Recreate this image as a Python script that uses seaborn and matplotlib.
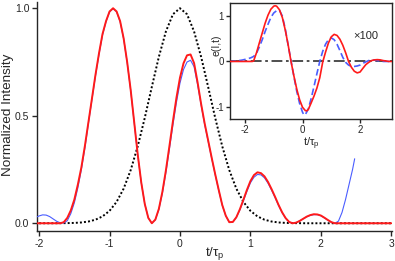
import numpy as np
import pandas as pd
import matplotlib
matplotlib.use("Agg")
import matplotlib.pyplot as plt
import seaborn as sns

# ---------------- data ----------------
# main panel: red intensity
t_red = [-2.03, -1.9, -1.8, -1.7, -1.65, -1.6, -1.55, -1.5, -1.45, -1.4, -1.35, -1.3, -1.25,
         -1.2, -1.15, -1.1, -1.05, -1.0, -0.95, -0.9, -0.85, -0.8, -0.75, -0.7, -0.65,
         -0.6, -0.55, -0.5, -0.45, -0.4, -0.35, -0.3, -0.25, -0.2, -0.15, -0.1, -0.05,
         0.0, 0.05, 0.1, 0.15, 0.2, 0.25, 0.3, 0.35, 0.4, 0.45, 0.5, 0.55, 0.6, 0.65,
         0.7, 0.75, 0.8, 0.85, 0.9, 0.95, 1.0, 1.05, 1.1, 1.15, 1.2, 1.25, 1.3, 1.35,
         1.4, 1.45, 1.5, 1.55, 1.6, 1.65, 1.7, 1.75, 1.8, 1.85, 1.9, 1.95, 2.0, 2.05,
         2.1, 2.15, 2.2, 2.5, 3.0]
i_red = [0.0, 0.0, 0.0, 0.0, 0.005, 0.025, 0.06, 0.11, 0.18, 0.26, 0.36, 0.47, 0.58,
         0.69, 0.79, 0.88, 0.94, 0.985, 1.0, 0.985, 0.94, 0.86, 0.75, 0.62, 0.47,
         0.32, 0.19, 0.09, 0.025, 0.0, 0.017, 0.067, 0.146, 0.246, 0.359, 0.475, 0.584,
         0.677, 0.744, 0.781, 0.785, 0.745, 0.655, 0.555, 0.465, 0.385, 0.305, 0.228, 0.155, 0.085, 0.035,
         0.005, 0.006, 0.028, 0.065, 0.109, 0.155, 0.196, 0.224, 0.237, 0.233, 0.218, 0.192, 0.159, 0.123,
         0.085, 0.051, 0.024, 0.006, 0.0, 0.003, 0.011, 0.021, 0.031, 0.038, 0.042, 0.041, 0.036, 0.026,
         0.015, 0.005, 0.0, 0.0, 0.0]

# main panel: blue intensity
t_blue = [-2.03, -2.0, -1.95, -1.9, -1.85, -1.8, -1.75, -1.7, -1.65, -1.6, -1.55, -1.5, -1.45,
          -1.4, -1.35, -1.3, -1.25, -1.2, -1.15, -1.1, -1.05, -1.0, -0.95, -0.9, -0.85,
          -0.8, -0.75, -0.7, -0.65, -0.6, -0.55, -0.5, -0.45, -0.4, -0.35, -0.3, -0.25,
          -0.2, -0.15, -0.1, -0.05, 0.0, 0.05, 0.1, 0.15, 0.2, 0.25, 0.3, 0.35, 0.4, 0.45,
          0.5, 0.55, 0.6, 0.65, 0.7, 0.75, 0.8, 0.85, 0.9, 0.95, 1.0, 1.05, 1.1, 1.15,
          1.2, 1.25, 1.3, 1.35, 1.4, 1.45, 1.5, 1.55, 1.6, 1.65, 1.7, 1.75, 1.8, 1.85,
          1.9, 1.95, 2.0, 2.05, 2.1, 2.15, 2.2, 2.25, 2.3, 2.35, 2.4, 2.45, 2.48]
i_blue = [0.030, 0.034, 0.039, 0.038, 0.031, 0.020, 0.009, 0.002, 0.001, 0.012, 0.045, 0.095, 0.165,
          0.25, 0.35, 0.465, 0.575, 0.685, 0.785, 0.875, 0.938, 0.983, 0.998, 0.983, 0.938,
          0.858, 0.748, 0.618, 0.468, 0.318, 0.19, 0.09, 0.025, 0.0, 0.016, 0.064, 0.14,
          0.236, 0.346, 0.458, 0.563, 0.652, 0.715, 0.75, 0.758, 0.728, 0.645, 0.55, 0.46, 0.381, 0.302,
          0.226, 0.153, 0.084, 0.035, 0.005, 0.006, 0.027, 0.062, 0.104, 0.148, 0.188, 0.214, 0.227, 0.225,
          0.211, 0.186, 0.154, 0.119, 0.082, 0.049, 0.023, 0.006, 0.0, 0.003, 0.011, 0.021, 0.03, 0.037,
          0.04, 0.04, 0.035, 0.025, 0.014, 0.005, 0.0, 0.01, 0.05, 0.11, 0.18, 0.25, 0.30]

# main panel: dotted reference pulse
t_ref = [-2.0, -1.8, -1.6, -1.5, -1.4, -1.3, -1.2, -1.1, -1.0, -0.9, -0.8, -0.7, -0.6, -0.5,
         -0.4, -0.3, -0.2, -0.1, 0.0, 0.1, 0.2, 0.3, 0.4, 0.5, 0.6, 0.7, 0.8, 0.9, 1.0,
         1.1, 1.2, 1.3, 1.4, 1.5, 1.6, 1.8, 2.0, 2.5, 3.0]
i_ref = [0.0, 0.0, 0.0007, 0.0016, 0.0037, 0.0081, 0.0165, 0.0318, 0.0578, 0.0994, 0.161, 0.247,
         0.358, 0.490, 0.634, 0.774, 0.892, 0.972, 1.0, 0.972, 0.892, 0.774, 0.634, 0.490, 0.358,
         0.247, 0.161, 0.0994, 0.0578, 0.0318, 0.0165, 0.0081, 0.0037, 0.0016, 0.0007, 0.0, 0.0, 0.0, 0.0]

# inset: red field
t_fr = [-2.55, -2.0, -1.75, -1.7, -1.6, -1.5, -1.4, -1.3, -1.2, -1.1, -1.0, -0.95, -0.9, -0.8,
        -0.7, -0.6, -0.5, -0.4, -0.3, -0.2, -0.1, 0.0, 0.1, 0.15, 0.2, 0.3, 0.4, 0.5, 0.6,
        0.7, 0.8, 0.9, 1.0, 1.1, 1.2, 1.3, 1.4, 1.5, 1.6, 1.7, 1.8, 1.9, 2.0, 2.1, 2.2,
        2.3, 2.4, 2.5, 2.6, 2.7, 2.8, 2.9, 3.0, 3.12]
e_fr = [0.0, 0.0, 0.0, 0.01, 0.19, 0.41, 0.627, 0.843, 1.021, 1.153, 1.22, 1.229, 1.22, 1.14,
        0.968, 0.695, 0.369, 0.0, -0.318, -0.61, -0.847, -1.011, -1.086, -1.089, -1.061, -0.916, -0.763, -0.587, -0.358,
        -0.02, 0.206, 0.406, 0.544, 0.598, 0.574, 0.49, 0.358, 0.19, 0.0, -0.129, -0.216, -0.252, -0.233, -0.15, -0.07,
        -0.02, 0.02, 0.035, 0.04, 0.035, 0.02, 0.01, 0.0, 0.0]

# inset: blue dashed field
t_fb = [-2.55, -2.3, -2.1, -1.9, -1.8, -1.7, -1.6, -1.5, -1.4, -1.3, -1.2, -1.1, -1.0, -0.9,
        -0.8, -0.7, -0.6, -0.5, -0.4, -0.3, -0.2, -0.1, 0.0, 0.05, 0.1, 0.2, 0.3, 0.4, 0.5,
        0.6, 0.7, 0.8, 0.9, 1.0, 1.1, 1.2, 1.3, 1.4, 1.5, 1.6, 1.7, 1.8, 1.9, 2.0, 2.1,
        2.2, 2.3, 2.4, 2.5, 2.6, 2.8, 3.12]
e_fb = [0.0, 0.01, 0.03, 0.06, 0.08, 0.11, 0.18, 0.32, 0.48, 0.66, 0.82, 0.97, 1.07, 1.12,
        1.13, 1.0, 0.72, 0.36, 0.02, -0.33, -0.66, -0.93, -1.12, -1.18, -1.17, -1.05, -0.82, -0.55, -0.27,
        0.0, 0.22, 0.38, 0.48, 0.52, 0.48, 0.38, 0.24, 0.09, -0.02, -0.08, -0.11, -0.11, -0.1, -0.08, -0.04,
        -0.01, 0.02, 0.03, 0.03, 0.02, 0.0, 0.0]

main_xticks = [-2, -1, 0, 1, 2, 3]
main_yticks = [0.0, 0.5, 1.0]
main_yticklabels = ["0.0", "0.5", "1.0"]
inset_xticks = [-2, 0, 2]
inset_yticks = [-1, 0, 1]

# ---------------- style ----------------
sns.set_style("ticks")
plt.rcParams["font.family"] = ["Liberation Sans", "DejaVu Sans"]
plt.rcParams["mathtext.fontset"] = "custom"
plt.rcParams["mathtext.rm"] = "Liberation Sans"
plt.rcParams["mathtext.it"] = "Liberation Sans"

RED = "#ff1a1a"
BLUE = "#4a5dff"

fig = plt.figure(figsize=(3.95, 2.61), dpi=100)
ax = fig.add_axes([37 / 395, 30 / 261, 355 / 395, 229 / 261])

sns.lineplot(x=t_ref, y=i_ref, ax=ax, color="black", lw=1.4, linestyle=(0, (1, 1.1)),
             sort=False, estimator=None, zorder=2)
sns.lineplot(x=t_blue, y=i_blue, ax=ax, color=BLUE, lw=0.8, sort=False, estimator=None, zorder=3)
sns.lineplot(x=t_red, y=i_red, ax=ax, color=RED, lw=1.4, sort=False, estimator=None, zorder=4)

ax.set_xlim(-2.03, 3.01)
ax.set_ylim(-0.036, 1.029)
ax.set_xticks(main_xticks)
ax.set_xticklabels([str(v) for v in main_xticks])
ax.set_yticks(main_yticks)
ax.set_yticklabels(main_yticklabels)
for s in ["top", "right"]:
    ax.spines[s].set_visible(False)
for s in ["left", "bottom"]:
    ax.spines[s].set_linewidth(1.0)
ax.tick_params(direction="out", length=3.5, width=1.0, labelsize=7.5, pad=2)
ax.set_xlabel(r"t/$\tau_\mathrm{p}$", fontsize=9.5)
ax.set_ylabel("Normalized Intensity", fontsize=9.7)
ax.xaxis.set_label_coords(0.501, -0.062)
ax.yaxis.label.set_verticalalignment("center")
ax.yaxis.set_label_coords(-0.083, 0.507)

# ---------------- inset ----------------
axi = fig.add_axes([230 / 395, (261 - 119) / 261, 162 / 395, 116 / 261])
axi.set_facecolor("white")
axi.axhline(0, color="#404040", lw=1.3, linestyle=(0, (6, 2, 1.5, 2)), zorder=1)
sns.lineplot(x=t_fb, y=e_fb, ax=axi, color=BLUE, lw=1.2, linestyle=(0, (4, 2)),
             sort=False, estimator=None, zorder=2)
sns.lineplot(x=t_fr, y=e_fr, ax=axi, color=RED, lw=1.2, sort=False, estimator=None, zorder=3)
axi.set_xlim(-2.52, 3.11)
axi.set_ylim(-1.27, 1.29)
axi.set_xticks(inset_xticks)
axi.set_xticklabels([str(v) for v in inset_xticks])
axi.set_yticks(inset_yticks)
axi.set_yticklabels([str(v) for v in inset_yticks])
for s in axi.spines.values():
    s.set_linewidth(1.0)
    s.set_visible(True)
axi.tick_params(direction="out", length=3, width=1.0, labelsize=7, pad=1.5)
axi.set_xlabel(r"t/$\tau_\mathrm{p}$", fontsize=8)
axi.set_ylabel("e(I,t)", fontsize=7.5)
axi.xaxis.set_label_coords(0.5, -0.145)
axi.yaxis.label.set_verticalalignment("center")
axi.yaxis.set_label_coords(-0.082, 0.64)
axi.text(1.78, 0.57, "×100", fontsize=8, ha="left", va="center")

fig.savefig("out.png", dpi=100)
